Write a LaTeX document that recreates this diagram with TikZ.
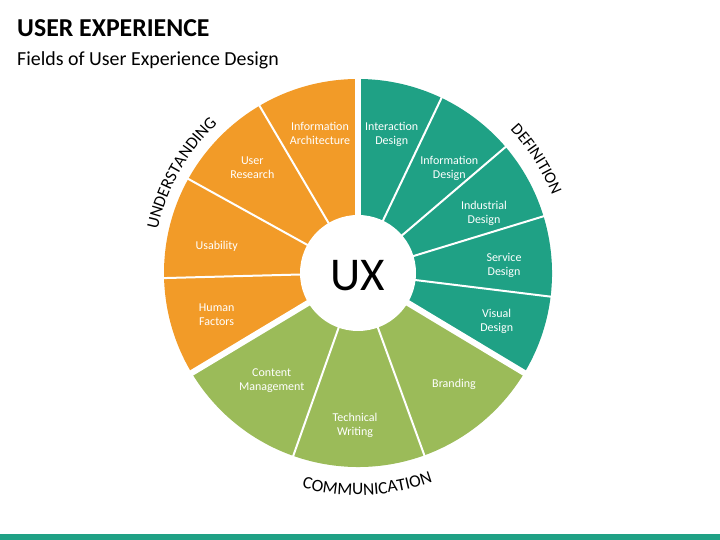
\documentclass[tikz,border=0pt]{standalone}
\usepackage{fontspec}
\setmainfont{Carlito}
\usetikzlibrary{decorations.text}
\definecolor{uxorange}{RGB}{242,155,40}
\definecolor{uxteal}{RGB}{31,161,133}
\definecolor{uxgreen}{RGB}{155,187,89}
\tikzset{
  lbl/.style={text=white, align=center, font=\fontsize{12}{14}\selectfont, inner sep=0pt},
  thinsep/.style={draw=white, line width=2pt},
  thicksep/.style={draw=white, line width=6pt},
}
\begin{document}
\begin{tikzpicture}[x=1pt,y=1pt]
\useasboundingbox (0,0) rectangle (720,540);
\fill[white] (0,0) rectangle (720,540);
% title
\node[anchor=base west, inner sep=0pt, font=\fontsize{25.8}{28}\selectfont\bfseries] (title) at (17,503.3) {USER EXPERIENCE};
\node[anchor=base west, inner sep=0pt, font=\fontsize{19.9}{22}\selectfont] (subtitle) at (17,474) {Fields of User Experience Design};
% bottom bar
\fill[uxteal] (0,0) rectangle (720,5.5);
\begin{scope}[shift={(358,267)}]
  % sectors
  \fill[uxorange] (0,0) -- (90:194) arc[start angle=90, end angle=211, radius=194] -- cycle;
  \fill[uxteal] (0,0) -- (-31:194) arc[start angle=-31, end angle=90, radius=194] -- cycle;
  \fill[uxgreen] (0,0) -- (-149:194) arc[start angle=-149, end angle=-31, radius=194] -- cycle;
  % separators
  \foreach \a in {120.5,151,181.5,64.5,40.5,17,-7,-70,-109.5}
    \draw[thinsep] (0,0) -- (\a:200);
  \foreach \a in {90,-31,-149}
    \draw[thicksep] (0,0) -- (\a:200);
  % centre
  \fill[white] (0,0) circle[radius=58];
  % curved headings
  \path[decorate, decoration={text along path, text align=center,
    text={|\fontsize{17}{17}\selectfont|UNDERSTANDING}}]
    (179:205) arc[start angle=179, end angle=122, radius=205];
  \path[decorate, decoration={text along path, text align=center,
    text={|\fontsize{16.5}{16.5}\selectfont|DEFINITION}}]
    (62:209) arc[start angle=62, end angle=3, radius=209];
  \path[decorate, decoration={text along path, text align=center,
    text={|\fontsize{17.5}{17.5}\selectfont|COMMUNICATION}}]
    (-115:222) arc[start angle=-115, end angle=-60, radius=222];
\end{scope}
\node[inner sep=0pt, font=\fontsize{47}{47}\selectfont] (ux) at (357.5,264.5) {UX};
% labels
\node[lbl] (ia) at (320,406.3) {Information\\Architecture};
\node[lbl] (ur) at (252.3,372) {User\\Research};
\node[lbl] (us) at (216.7,294) {Usability};
\node[lbl] (hf) at (216.7,225.3) {Human\\Factors};
\node[lbl] (cm) at (271.7,159) {Content\\Management};
\node[lbl] (tw) at (355,114.5) {Technical\\Writing};
\node[lbl] (br) at (454,156) {Branding};
\node[lbl] (vd) at (496.7,219) {Visual\\Design};
\node[lbl] (sd) at (504,274.5) {Service\\Design};
\node[lbl] (ind) at (484,327) {Industrial\\Design};
\node[lbl] (ifd) at (449.3,372) {Information\\Design};
\node[lbl] (ixd) at (391.7,405.3) {Interaction\\Design};
\end{tikzpicture}
\end{document}
